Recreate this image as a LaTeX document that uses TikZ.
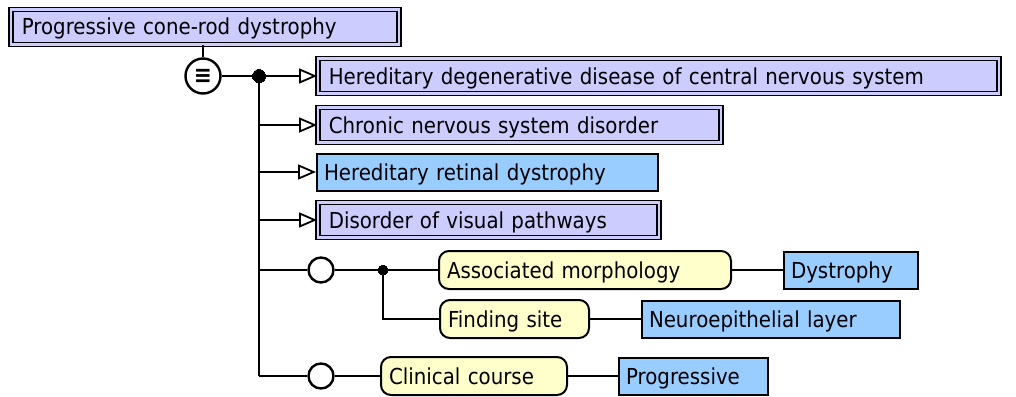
\documentclass[tikz,border=0pt]{standalone}
\usepackage{fontspec}
\setmainfont{DejaVu Sans}[FakeStretch=0.9]
\usepackage{tikz}
\usetikzlibrary{arrows.meta,positioning}
\definecolor{PrimFill}{HTML}{CCCCFF}
\definecolor{DefFill}{HTML}{99CCFF}
\definecolor{AttrFill}{HTML}{FFFFCC}
\newcommand{\lblfont}{\fontsize{22}{26}\selectfont}

\begin{document}
\begin{tikzpicture}[x=1pt,y=-1pt,line width=2pt,
    lbl/.style={anchor=west,align=left,font=\lblfont,text height=18pt,text depth=2pt},
    primbox/.style={lbl,draw,fill=PrimFill,double=PrimFill,double distance=2.4pt,
      line width=1.6pt,minimum height=35pt,inner xsep=11pt},
    defbox/.style={lbl,draw,fill=DefFill,line width=2pt,minimum height=37pt,
      inner xsep=7pt},
    attrbox/.style={lbl,draw,fill=AttrFill,rounded corners=10pt,line width=2pt,
      minimum height=38pt,inner xsep=8pt},
    grpcirc/.style={circle,draw,fill=white,line width=2.4pt,minimum size=25pt,inner sep=0pt},
    eqcirc/.style={circle,draw,fill=white,line width=2.4pt,minimum size=35pt,inner sep=0pt},
    junc/.style={circle,draw,fill=black,line width=0pt,inner sep=0pt,minimum size=#1},
    isa/.style={-{Triangle[length=18pt,width=15pt,fill=white,line width=1.8pt]}}]
  \useasboundingbox (0,0) rectangle (1016,396);

  % focus concept and definition status
  \node[primbox,text width=366pt] (focus) at (10,27) {Progressive cone-rod dystrophy};
  \node[eqcirc,font=\fontsize{24}{24}\bfseries] (eq) at (203,76) {≡};
  \node[junc=13pt] (j1) at (259,76) {};

  % parents
  \node[primbox,text width=659pt] (b1) at (317,76) {Hereditary degenerative disease of central nervous system};
  \node[primbox,text width=381pt] (b2) at (317,125) {Chronic nervous system disorder};
  \node[defbox,text width=327pt] (b3) at (316,172) {Hereditary retinal dystrophy};
  \node[primbox,text width=319pt] (b4) at (317,220) {Disorder of visual pathways};

  % attribute groups
  \node[grpcirc] (g1) at (321,270) {};
  \node[junc=10pt] (j2) at (383,270) {};
  \node[attrbox,text width=276pt] (morph) at (438,270) {Associated morphology};
  \node[defbox,text width=120pt] (dys) at (783,270) {Dystrophy};
  \node[attrbox,text width=133pt] (site) at (439,319) {Finding site};
  \node[defbox,text width=244pt] (neuro) at (641,319) {Neuroepithelial layer};
  \node[grpcirc] (g2) at (321,376) {};
  \node[attrbox,text width=170pt] (course) at (380,376) {Clinical course};
  \node[defbox,text width=135pt] (prog) at (618,376) {Progressive};

  \coordinate (t2) at (j1 |- b2.west);
  \coordinate (t3) at (j1 |- b3.west);
  \coordinate (t4) at (j1 |- b4.west);
  \coordinate (t5) at (j1 |- g1);
  \coordinate (t7) at (j1 |- g2);

  % connectors
  \draw (eq) -- (eq |- focus.south);
  \draw (eq) -- (j1);
  \draw (j1) -- (t7);
  \draw[isa] (j1) -- (b1);
  \draw[isa] (t2) -- (b2);
  \draw[isa] (t3) -- (b3);
  \draw[isa] (t4) -- (b4);
  \draw (t5) -- (g1);
  \draw (g1) -- (j2);
  \draw (j2) -- (morph);
  \draw (morph) -- (dys);
  \draw (j2) |- (site);
  \draw (site) -- (neuro);
  \draw (t7) -- (g2);
  \draw (g2) -- (course);
  \draw (course) -- (prog);
\end{tikzpicture}
\end{document}
